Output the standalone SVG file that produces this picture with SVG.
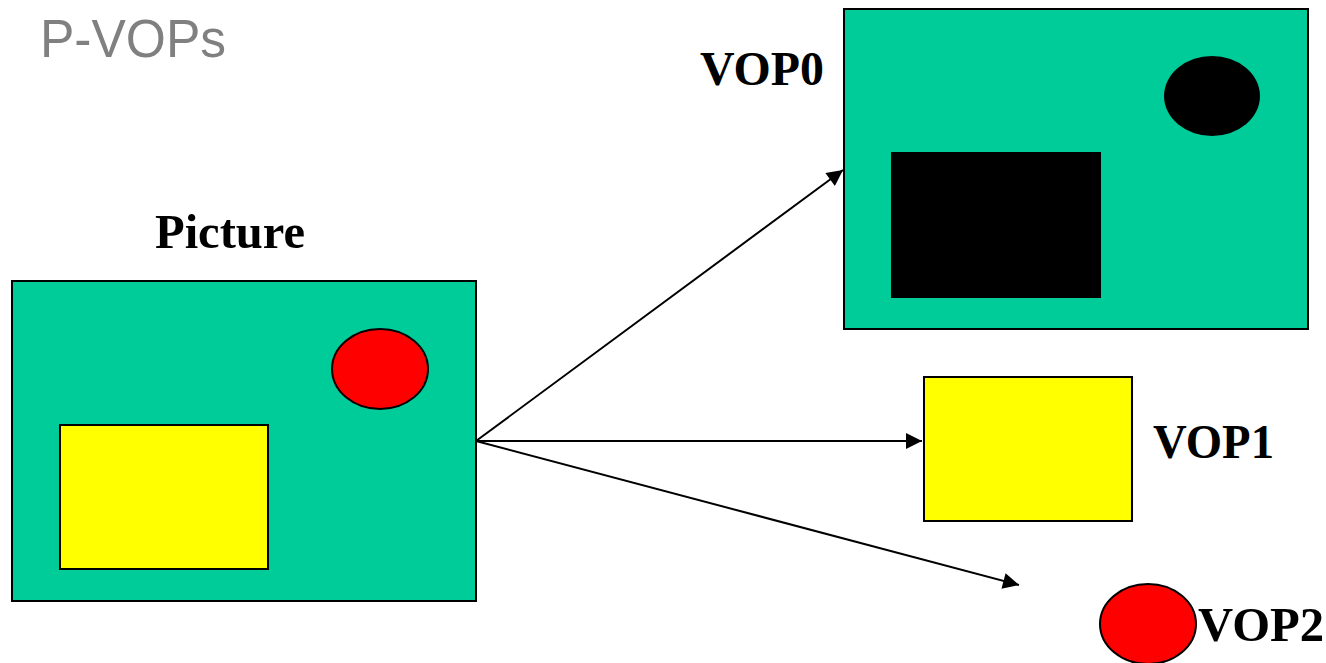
<svg xmlns="http://www.w3.org/2000/svg" width="1326" height="663" viewBox="0 0 1326 663">
  <style>
    .frame { fill: #00cc99; stroke: #000; stroke-width: 2; }
    .yel { fill: #ffff00; stroke: #000; stroke-width: 2; }
    .red { fill: #ff0000; stroke: #000; stroke-width: 2; }
    .blk { fill: #000; }
    .lbl { font-family: "Liberation Serif", "Times New Roman", serif; font-weight: bold; font-size: 48px; fill: #000; }
    .title { font-family: "Liberation Sans", Arial, sans-serif; font-size: 54px; fill: #808080; }
    .conn { stroke: #000; stroke-width: 2; fill: none; marker-end: url(#ah); }
  </style>
  <defs>
    <marker id="ah" viewBox="0 0 10 10" refX="10" refY="5" markerWidth="20" markerHeight="16" markerUnits="userSpaceOnUse" orient="auto">
      <path d="M0,0 L10,5 L0,10 Z" fill="#000"/>
    </marker>
  </defs>
  <rect width="1326" height="663" fill="#fff"/>

  <text class="title" x="40" y="57" textLength="186" lengthAdjust="spacingAndGlyphs">P-VOPs</text>

  <g id="picture">
    <rect class="frame" x="12" y="281" width="464" height="320"/>
    <rect class="yel" x="60" y="425" width="208" height="144"/>
    <ellipse class="red" cx="380" cy="369" rx="48" ry="40"/>
    <text class="lbl" x="155" y="248" textLength="150" lengthAdjust="spacingAndGlyphs">Picture</text>
  </g>

  <g id="vop0">
    <rect class="frame" x="844" y="9" width="464" height="320"/>
    <rect class="blk" x="891" y="152" width="210" height="146"/>
    <ellipse class="blk" cx="1212" cy="96" rx="48" ry="40"/>
    <text class="lbl" x="700" y="85" textLength="124" lengthAdjust="spacingAndGlyphs">VOP0</text>
  </g>

  <g id="vop1">
    <rect class="yel" x="924" y="377" width="208" height="144"/>
    <text class="lbl" x="1153" y="458" textLength="121" lengthAdjust="spacingAndGlyphs">VOP1</text>
  </g>

  <g id="vop2">
    <ellipse class="red" cx="1148" cy="624" rx="48" ry="40"/>
    <text class="lbl" x="1198" y="641" textLength="126" lengthAdjust="spacingAndGlyphs">VOP2</text>
  </g>

  <g id="connectors">
    <line class="conn" x1="476" y1="441" x2="843" y2="170"/>
    <line class="conn" x1="476" y1="441" x2="922" y2="441"/>
    <line class="conn" x1="476" y1="441" x2="1019" y2="585"/>
  </g>
</svg>
